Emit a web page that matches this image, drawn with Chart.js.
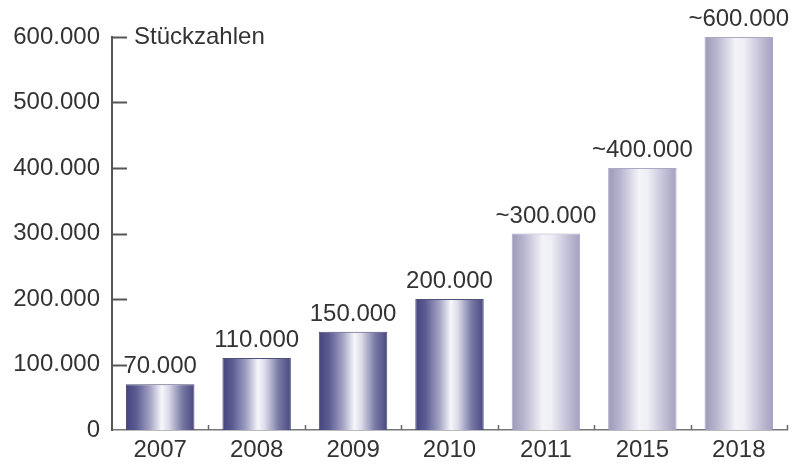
<!DOCTYPE html>
<html>
<head>
<meta charset="utf-8">
<script src="https://cdn.jsdelivr.net/npm/chart.js@4.4.1/dist/chart.umd.min.js"></script>
<style>
  html, body { margin: 0; padding: 0; background: #fff; }
  #wrap { width: 793px; height: 467px; position: relative; }
</style>
</head>
<body>
<div id="wrap"><canvas id="c" width="793" height="467"></canvas></div>
<script>
// ---- data ----
const categories = ['2007', '2008', '2009', '2010', '2011', '2015', '2018'];
const units = [70000, 110000, 150000, 200000, 300000, 400000, 600000];
const valueLabels = ['70.000', '110.000', '150.000', '200.000', '~300.000', '~400.000', '~600.000'];
const approximate = [false, false, false, false, true, true, true];
const yTickValues = [0, 100000, 200000, 300000, 400000, 500000, 600000];
const axisTitle = 'Stückzahlen';

// ---- styling ----
const FONT = '"Liberation Sans", Arial, Helvetica, sans-serif';
const TEXT = '#333333';
const BAR_PCT = 0.71;

function fmt(v) { return String(v).replace(/\B(?=(\d{3})+(?!\d))/g, '.'); }

function barGradient(ctx) {
  const chart = ctx.chart;
  const xs = chart.scales && chart.scales.x;
  const est = approximate[ctx.dataIndex];
  if (!xs || !isFinite(xs.width) || xs.width <= 0) return est ? '#c8c6dc' : '#6a6a9a';
  const cx = xs.getPixelForValue(ctx.dataIndex);
  const w = (xs.width / categories.length) * BAR_PCT;
  const g = chart.ctx.createLinearGradient(cx - w / 2, 0, cx + w / 2, 0);
  if (est) {
    g.addColorStop(0, '#9c98b8');
    g.addColorStop(0.18, '#b9b6cf');
    g.addColorStop(0.45, '#f3f3f8');
    g.addColorStop(0.58, '#eeeef5');
    g.addColorStop(0.82, '#c2bfd6');
    g.addColorStop(1, '#a4a0c0');
  } else {
    g.addColorStop(0, '#45457e');
    g.addColorStop(0.15, '#5c5c92');
    g.addColorStop(0.35, '#a2a2c4');
    g.addColorStop(0.52, '#f6f6fa');
    g.addColorStop(0.62, '#dcdcea');
    g.addColorStop(0.82, '#7a7aa6');
    g.addColorStop(1, '#48487f');
  }
  return g;
}

const decorPlugin = {
  id: 'decor',
  afterDatasetsDraw(chart) {
    const c = chart.ctx;
    const xs = chart.scales.x, ys = chart.scales.y;
    const area = chart.chartArea;
    c.save();
    // inward y ticks
    c.strokeStyle = '#555555';
    c.lineWidth = 2;
    yTickValues.forEach(v => {
      if (v === 0) return;
      const py = Math.round(ys.getPixelForValue(v)) + 0.5;
      c.beginPath();
      c.moveTo(area.left, py);
      c.lineTo(area.left + 15, py);
      c.stroke();
    });
    // small upward x ticks at category boundaries
    const step = xs.width / categories.length;
    c.lineWidth = 1.5;
    c.strokeStyle = '#666666';
    categories.forEach((_, i) => {
      const px = Math.round(xs.getPixelForValue(i) + step / 2) + 0.5;
      c.beginPath();
      c.moveTo(px, area.bottom);
      c.lineTo(px, area.bottom - 5);
      c.stroke();
    });
    // value labels above bars
    c.fillStyle = TEXT;
    c.font = '24px ' + FONT;
    c.textAlign = 'center';
    c.textBaseline = 'alphabetic';
    const meta = chart.getDatasetMeta(0);
    meta.data.forEach((bar, i) => {
      c.fillText(valueLabels[i], bar.x, bar.y - 11);
    });
    // axis title
    c.textAlign = 'left';
    c.textBaseline = 'middle';
    c.fillText(axisTitle, area.left + 22, ys.getPixelForValue(600000) + 0.5);
    c.restore();
  }
};

new Chart(document.getElementById('c'), {
  type: 'bar',
  data: {
    labels: categories,
    datasets: [{
      label: axisTitle,
      data: units,
      backgroundColor: barGradient,
      borderColor: ctx => approximate[ctx.dataIndex] ? 'rgba(150,146,180,0.8)' : 'rgba(60,60,105,0.9)',
      borderWidth: 1,
      categoryPercentage: 1,
      barPercentage: BAR_PCT
    }]
  },
  options: {
    responsive: false,
    animation: false,
    devicePixelRatio: 1,
    layout: { padding: { top: 37, right: 6, bottom: 0, left: 0 } },
    plugins: { legend: { display: false }, tooltip: { enabled: false } },
    scales: {
      x: {
        grid: { display: false, drawTicks: false },
        border: { display: true, color: '#777777', width: 1.5 },
        ticks: { color: TEXT, font: { family: FONT, size: 24 }, padding: 6, maxRotation: 0 },
        afterFit(s) { s.height = 37; }
      },
      y: {
        min: 0,
        max: 600000,
        afterBuildTicks(s) { s.ticks = yTickValues.map(v => ({ value: v })); },
        grid: { display: false, drawTicks: false },
        border: { display: true, color: '#555555', width: 2 },
        ticks: { color: TEXT, font: { family: FONT, size: 24 }, padding: 12, callback: v => fmt(v) },
        afterFit(s) { s.width = 112; }
      }
    }
  },
  plugins: [decorPlugin]
});
</script>
</body>
</html>
